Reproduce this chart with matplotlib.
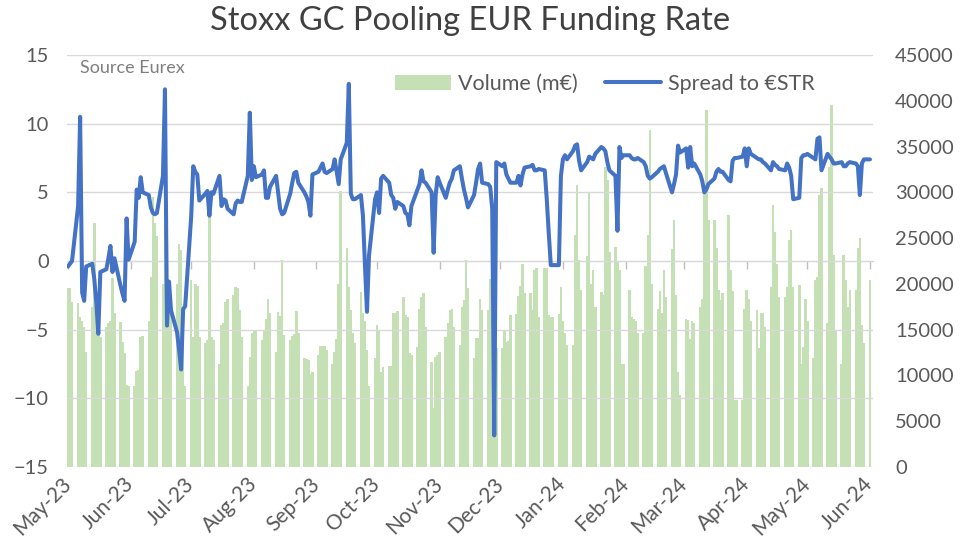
import numpy as np
import pandas as pd
import matplotlib
matplotlib.use('Agg')
import matplotlib.pyplot as plt
import matplotlib.dates as mdates
from matplotlib.ticker import FuncFormatter

plt.rcParams['font.family'] = ['Lato', 'DejaVu Sans']

# daily volume (m EUR), business days
vol_may23 = [19500, 19500, 18000, 17900, 16400, 16000, 15300, 12600, 17500, 26600, 17000,
             16000, 14200, 15300, 15700, 16000, 20600, 16800, 15800, 13700, 12500]
vol_jun23 = [9000, 8800, 8800, 10500, 10600, 14200, 14300, 15900, 20800, 29500, 26600,
             25200, 20000, 26600, 19500, 20000, 17000, 20000, 24400, 23700, 15700, 8800]
vol_jul23 = [20400, 14200, 20000, 19800, 14200, 13500, 13900, 29900, 14200, 13900, 11300,
             15500, 15700, 18000, 18300, 18800, 19700, 19500, 17100, 14200, 8800]
vol_aug23 = [12000, 14600, 14800, 14800, 13900, 14800, 16200, 18400, 16800, 12600, 16900,
             16500, 22600, 14400, 13900, 14300, 14500, 17000, 14600, 11900, 11800, 11700, 10200]
vol_sep23 = [10400, 12200, 13200, 13200, 13200, 12800, 11300, 12600, 14000, 20000, 30200,
             23900, 19700, 17200, 14600, 13500, 19100, 16800, 16000, 12800, 8800]
vol_oct23 = [11900, 15500, 15000, 10400, 10900, 11000, 11000, 16800, 16800, 17000, 18600,
             16600, 16400, 12400, 12200, 13100, 17300, 18600, 19000, 15300, 11500, 6400]
vol_nov23 = [12000, 12200, 12600, 14200, 15700, 17200, 17300, 15300, 13300, 17500, 18200,
             22600, 19500, 11900, 14100, 14100, 18400, 17200, 17100, 20500, 16500, 14000]
vol_dec23 = [13000, 13000, 15000, 13700, 13800, 16600, 16700, 18700, 19800, 22200, 19000,
             19000, 17200, 21500, 21700, 16400, 21700, 21700, 16600, 16400, 16400]
vol_jan24 = [16700, 19700, 15900, 14600, 13300, 13300, 25300, 30800, 22600, 19300, 23000,
             29900, 20000, 21500, 17500, 19100, 18800, 32800, 31300, 23500, 24000, 22400, 21500]
vol_feb24 = [11300, 11300, 19300, 16400, 16200, 16000, 14600, 14600, 22000, 25300, 36800,
             20000, 17300, 19200, 16800, 21500, 18600, 23800, 27000, 18800, 10400]
vol_mar24 = [7900, 16200, 16100, 14000, 15900, 15700, 17500, 18400, 30000, 39000, 27000,
             27000, 23900, 19300, 18200, 19000, 27500, 21500, 19200, 7300, 7300]
vol_apr24 = [7300, 17300, 19300, 18400, 16000, 17200, 13000, 16800, 16800, 15300, 19700,
             28600, 25700, 22200, 18600, 18600, 19700, 24800, 25900, 19700, 19900, 11300]
vol_may24 = [13100, 18400, 16000, 11900, 20400, 20800, 29700, 30500, 15700, 32800, 39500,
             23200, 15000, 11300, 23200, 20400, 17500, 19300, 19300, 23900, 25000, 15500, 13500]
vol_jun24 = [20400]

# spread to ESTR (bp)
spr_may23 = [-0.4, -0.2, 0.0, 4.0, 10.5, -2.3, -2.9, -0.4, -0.2, -1.3, -3.0, -5.3, -0.8,
             -0.6, 0.2, 1.1, -0.8, 0.2, -1.8, -2.4, -2.9]
spr_jun23 = [3.1, 0.1, 1.4, 5.2, 4.6, 6.1, 5.0, 4.8, 3.9, 3.5, 3.4, 3.5, 6.2, 12.5, -4.7,
             -1.5, -3.6, -5.2, -6.5, -7.9, -3.5, -3.3]
spr_jul23 = [3.3, 6.9, 6.5, 6.3, 4.4, 4.9, 5.1, 3.3, 5.0, 4.9, 6.2, 4.0, 4.5, 4.4, 3.8,
             3.4, 4.2, 4.4, 4.3, 4.3, 6.2]
spr_aug23 = [10.8, 5.9, 6.9, 6.1, 6.3, 6.6, 4.6, 4.6, 5.4, 6.2, 5.0, 3.8, 3.4, 3.5, 4.9,
             5.7, 6.4, 6.5, 5.7, 5.0, 4.7, 4.3, 3.3]
spr_sep23 = [6.3, 6.5, 6.8, 7.1, 6.5, 6.4, 6.7, 7.4, 6.5, 5.6, 7.4, 8.6, 12.9, 4.9, 4.5,
             4.5, 4.8, 3.3, -0.3, -3.7, 0.4]
spr_oct23 = [4.5, 5.0, 3.5, 6.0, 6.2, 5.7, 4.8, 4.6, 3.8, 4.3, 4.0, 3.5, 3.4, 2.6, 4.0,
             5.2, 5.6, 6.6, 5.8, 5.7, 5.0, 0.6]
spr_nov23 = [4.8, 6.1, 5.7, 4.6, 5.2, 5.7, 6.0, 6.6, 6.9, 6.0, 5.2, 4.6, 3.9, 4.8, 5.7,
             6.7, 7.1, 5.7, 5.6, 5.4, 3.8, -12.7]
spr_dec23 = [7.2, 6.9, 7.1, 6.3, 6.0, 5.7, 5.7, 6.2, 5.5, 6.3, 6.8, 6.9, 7.0, 6.6, 6.6,
             6.7, 6.6, 4.5, 2.0, -0.3, -0.3]
spr_jan24 = [-0.3, 6.2, 7.4, 7.7, 7.4, 8.0, 8.4, 8.5, 7.3, 6.6, 7.2, 7.6, 7.5, 7.4, 7.8,
             8.3, 8.2, 8.0, 7.2, 6.6, 6.2, 2.2, 8.3]
spr_feb24 = [7.5, 7.7, 7.7, 7.5, 7.4, 7.4, 7.5, 7.2, 6.9, 6.2, 6.0, 6.1, 6.5, 6.7, 6.8,
             6.9, 6.4, 5.0, 5.6, 6.3, 8.4]
spr_mar24 = [7.9, 8.2, 6.8, 8.3, 6.9, 7.1, 6.3, 5.8, 5.0, 5.2, 5.6, 6.0, 6.5, 6.7, 6.5,
             6.5, 5.9, 5.8, 7.3, 7.5, 7.5]
spr_apr24 = [7.6, 8.2, 6.9, 8.2, 7.8, 7.5, 7.4, 7.4, 7.2, 7.1, 6.6, 7.2, 7.0, 6.9, 6.7,
             6.6, 7.1, 6.8, 6.2, 4.5, 4.6, 7.5]
spr_may24 = [7.7, 7.7, 7.8, 7.5, 7.4, 8.9, 9.0, 6.6, 7.8, 7.6, 7.4, 7.1, 7.1, 7.2, 6.9,
             6.9, 7.1, 7.2, 7.1, 6.9, 4.8, 7.1, 7.4]
spr_jun24 = [7.4]

volume = (vol_may23 + vol_jun23 + vol_jul23 + vol_aug23 + vol_sep23 + vol_oct23 + vol_nov23
          + vol_dec23 + vol_jan24 + vol_feb24 + vol_mar24 + vol_apr24 + vol_may24 + vol_jun24)
spread = (spr_may23 + spr_jun23 + spr_jul23 + spr_aug23 + spr_sep23 + spr_oct23 + spr_nov23
          + spr_dec23 + spr_jan24 + spr_feb24 + spr_mar24 + spr_apr24 + spr_may24 + spr_jun24)
dates = pd.bdate_range('2023-05-03', '2024-06-03')
assert len(dates) == len(volume) == len(spread)

month_ticks = pd.date_range('2023-05-03', '2024-06-03', freq=pd.DateOffset(months=1))

GREY = '#595959'
W, H = 961, 555
fig = plt.figure(figsize=(W / 100, H / 100), dpi=100)
ax1 = fig.add_axes([67 / W, 1 - 467 / H, 806 / W, 412 / H])
ax2 = ax1.twinx()
ax1.set_zorder(ax2.get_zorder() + 1)
ax1.patch.set_visible(False)

bars = ax2.bar(dates, volume, width=1.25, color='#c5e0b4', linewidth=0, label='Volume (m€)')
line, = ax1.plot(dates, spread, color='#4472c4', lw=2.9, solid_joinstyle='round',
                 solid_capstyle='round', label='Spread to €STR')

ax1.set_xlim(pd.Timestamp('2023-05-02 12:00'), pd.Timestamp('2024-06-04 12:00'))
ax1.set_ylim(-15, 15)
ax1.set_yticks(range(-15, 16, 5))
ax2.set_ylim(0, 45000)
ax2.set_yticks(range(0, 45001, 5000))
ax2.yaxis.set_major_formatter(FuncFormatter(lambda v, p: f'{v:.0f}'))

ax1.yaxis.grid(True, color='#d9d9d9', lw=1)
for ax in (ax1, ax2):
    for s in ax.spines.values():
        s.set_visible(False)

ax1.tick_params(axis='y', length=0, labelsize=14.5, labelcolor=GREY, pad=13)
ax2.tick_params(axis='y', length=0, labelsize=14.5, labelcolor=GREY, pad=16)

# date labels at the bottom, tick marks on the zero line
ax1.set_xticks(month_ticks)
ax1.xaxis.set_major_formatter(mdates.DateFormatter('%b-%y'))
ax1.tick_params(axis='x', length=0, labelsize=15, labelcolor=GREY, pad=10)
for lab in ax1.get_xticklabels():
    lab.set_rotation(45)
    lab.set_ha('right')
    lab.set_va('center')
    lab.set_rotation_mode('anchor')

sec = ax1.secondary_xaxis(0.5)
sec.set_xticks(month_ticks)
sec.xaxis.set_ticks_position('bottom')
sec.tick_params(axis='x', direction='out', length=6, width=1, color='#bfbfbf',
                labelbottom=False, labeltop=False)
sec.spines['top'].set_visible(False)
sec.spines['bottom'].set_visible(True)
sec.spines['bottom'].set_color('#bfbfbf')

ax1.legend([bars, line], ['Volume (m€)', 'Spread to €STR'], loc='center', ncol=2,
           bbox_to_anchor=(605 / W, 1 - 84 / H), bbox_transform=fig.transFigure,
           frameon=False, fontsize=15.5, labelcolor=GREY, handlelength=2.6,
           handletextpad=0.3, columnspacing=1.3, borderpad=0)

fig.text(80 / W, 1 - 68 / H, 'Source Eurex', ha='left', va='center', fontsize=13, color='#7f7f7f')
fig.text(470 / W, 1 - 21 / H, 'Stoxx GC Pooling EUR Funding Rate', ha='center', va='center',
         fontsize=23.5, color='#404040')

fig.savefig('out.png', dpi=100)
